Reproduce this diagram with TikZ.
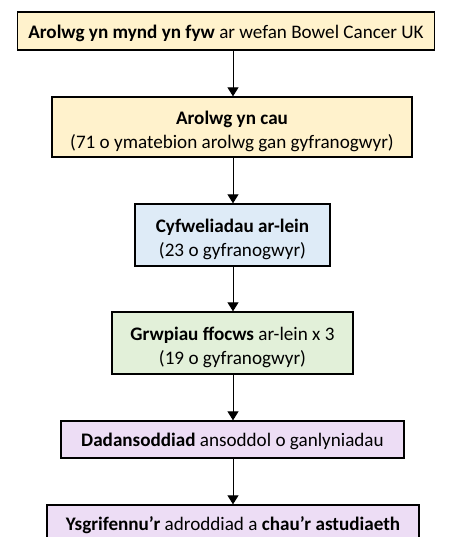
\documentclass[tikz,border=0pt]{standalone}
\usepackage{fontspec}
\setmainfont{Carlito}
\usetikzlibrary{arrows.meta}
\definecolor{cream}{HTML}{FFF2CC}
\definecolor{lblue}{HTML}{DEEBF7}
\definecolor{lgreen}{HTML}{E2F0D9}
\definecolor{lilac}{HTML}{EDDDF5}
\definecolor{txt}{HTML}{000000}
\tikzset{
  box/.style={draw=black, line width=1.3bp, inner sep=0pt},
  lbl/.style={align=center, inner sep=0pt, font=\fontsize{19.2}{24}\selectfont, text=txt},
  conn/.style={draw=black, line width=0.9bp, -{Triangle[width=11bp,length=9bp]}}
}
\begin{document}
\begin{tikzpicture}[x=1bp,y=1bp]
\clip (0,0) rectangle (451,-537);
\fill[white] (0,0) rectangle (451,-537);
\node[box, fill=cream, minimum width=417bp, minimum height=38bp] (b1) at (226,-31) {};
\node[lbl] (t1) at ([yshift=-2bp]b1.center)
  {\textbf{Arolwg yn mynd yn fyw} ar wefan Bowel Cancer UK};
\node[box, fill=cream, minimum width=360bp, minimum height=60bp] (b2) at (232,-127) {};
\node[lbl] (t2) at ([yshift=-4bp]b2.center)
  {\textbf{Arolwg yn cau}\\(71 o ymatebion arolwg gan gyfranogwyr)};
\node[box, fill=lblue, minimum width=195bp, minimum height=62bp] (b3) at (232.5,-235) {};
\node[lbl] (t3) at ([yshift=-4bp]b3.center)
  {\textbf{Cyfweliadau ar-lein}\\(23 o gyfranogwyr)};
\node[box, fill=lgreen, minimum width=241bp, minimum height=62bp] (b4) at (232.5,-343) {};
\node[lbl] (t4) at ([yshift=-4bp]b4.center)
  {\textbf{Grwpiau ffocws} ar-lein x 3\\(19 o gyfranogwyr)};
\node[box, fill=lilac, minimum width=343bp, minimum height=37bp] (b5) at (232.5,-439.5) {};
\node[lbl] (t5) at ([yshift=-2bp]b5.center)
  {\textbf{Dadansoddiad} ansoddol o ganlyniadau};
\node[box, fill=lilac, minimum width=372bp, minimum height=37bp] (b6) at (233,-523.5) {};
\node[lbl] (t6) at ([yshift=-2bp]b6.center)
  {\textbf{Ysgrifennu’r} adroddiad a \textbf{chau’r astudiaeth}};
\draw[conn] (b1.south -| 233,0) -- (b2.north -| 233,0);
\draw[conn] (b2.south -| 233,0) -- (b3.north -| 233,0);
\draw[conn] (b3.south -| 233,0) -- (b4.north -| 233,0);
\draw[conn] (b4.south -| 233,0) -- (b5.north -| 233,0);
\draw[conn] (b5.south -| 233,0) -- (b6.north -| 233,0);
\end{tikzpicture}
\end{document}
